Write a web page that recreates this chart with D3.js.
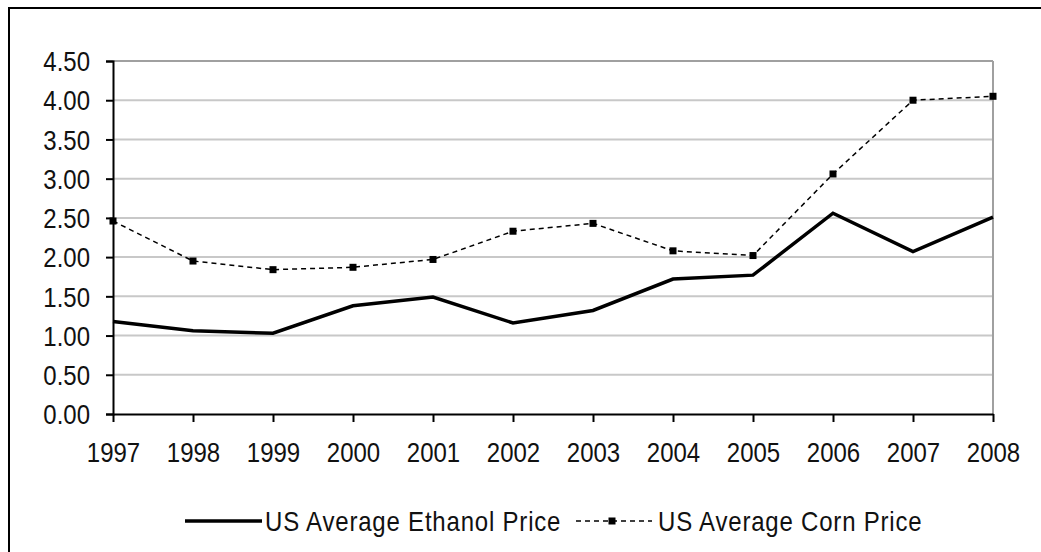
<!DOCTYPE html>
<html><head><meta charset="utf-8">
<script src="https://cdn.jsdelivr.net/npm/d3@7/dist/d3.min.js"></script>
<style>
html,body{margin:0;padding:0;background:#fff;}
svg{display:block;}
text{font-family:"Liberation Sans",Arial,sans-serif;fill:#111;}
</style></head>
<body>
<svg id="chart" width="1041" height="552"></svg>
<script>
const years = [1997,1998,1999,2000,2001,2002,2003,2004,2005,2006,2007,2008];
const ethanol = [1.18,1.06,1.03,1.38,1.49,1.16,1.32,1.72,1.77,2.56,2.07,2.51];
const corn = [2.46,1.95,1.84,1.87,1.97,2.33,2.43,2.08,2.02,3.06,4.00,4.05];
const yTicks = [0,0.5,1,1.5,2,2.5,3,3.5,4,4.5];
const seriesNames = ["US Average Ethanol Price","US Average Corn Price"];

(function(){
const svg = d3.select("#chart");
const W = 1041, H = 552;
const pLeft = 113, pRight = 993, pTop = 61, pBottom = 414;
const FS = 24, SY = 1.15;

// outer border (cropped: only top/left visible)
svg.append("rect").attr("x",9).attr("y",8).attr("width",W+20).attr("height",H+20)
  .attr("fill","none").attr("stroke","#000").attr("stroke-width",2);

const x = d3.scaleLinear().domain([years[0], years[years.length-1]]).range([pLeft,pRight]);
const y = d3.scaleLinear().domain([0,4.5]).range([pBottom,pTop]);

// gridlines
svg.append("g").selectAll("line").data(yTicks.filter(d=>d>0)).join("line")
  .attr("x1",pLeft).attr("x2",pRight)
  .attr("y1",d=>y(d)).attr("y2",d=>y(d))
  .attr("stroke",d=>d===4.5?"#a0a0a0":"#c8c8c8").attr("stroke-width",2);
// right plot border
svg.append("line").attr("x1",pRight).attr("x2",pRight).attr("y1",pTop).attr("y2",pBottom)
  .attr("stroke","#a0a0a0").attr("stroke-width",2);

// y axis
const yAxis = d3.axisLeft(y).tickValues(yTicks).tickFormat(d3.format(".2f")).tickSize(7).tickPadding(0);
const gy = svg.append("g").attr("transform",`translate(${pLeft},0)`).call(yAxis);
gy.select(".domain").attr("stroke","#000").attr("stroke-width",2);
gy.selectAll(".tick line").attr("stroke","#000").attr("stroke-width",2);
gy.selectAll(".tick text").remove();
gy.selectAll(".tick").append("text")
  .attr("transform",`translate(-23,0) scale(1,${SY})`)
  .attr("text-anchor","end").attr("dy","0.35em")
  .style("font-size",FS+"px").text(d=>d3.format(".2f")(d));

// x axis
const xAxis = d3.axisBottom(x).tickValues(years).tickFormat(d3.format("d")).tickSize(8).tickSizeOuter(0);
const gx = svg.append("g").attr("transform",`translate(0,${pBottom})`).call(xAxis);
gx.select(".domain").attr("stroke","#000").attr("stroke-width",2);
gx.selectAll(".tick line").attr("stroke","#000").attr("stroke-width",2);
gx.selectAll(".tick text").remove();
gx.selectAll(".tick").append("text")
  .attr("transform",`translate(0,38) scale(1,${SY})`)
  .attr("text-anchor","middle").attr("dy","0.35em")
  .style("font-size",FS+"px").text(d=>d);

const line = d3.line().x((d,i)=>x(years[i])).y(d=>y(d));

// corn (dashed with square markers)
svg.append("path").datum(corn).attr("d",line)
  .attr("fill","none").attr("stroke","#000").attr("stroke-width",1.5).attr("stroke-dasharray","5,4");
svg.append("g").selectAll("rect").data(corn).join("rect")
  .attr("x",(d,i)=>x(years[i])-3.5).attr("y",d=>y(d)-3.5)
  .attr("width",7).attr("height",7).attr("fill","#000");

// ethanol (thick solid)
svg.append("path").datum(ethanol).attr("d",line)
  .attr("fill","none").attr("stroke","#000").attr("stroke-width",3.5).attr("stroke-linejoin","miter");

// legend
const ly = 521;
const lg = svg.append("g");
lg.append("line").attr("x1",185).attr("x2",262).attr("y1",ly).attr("y2",ly)
  .attr("stroke","#000").attr("stroke-width",3.5);
lg.append("text").attr("transform",`translate(265,${ly}) scale(1,${SY})`).attr("dy","0.35em")
  .style("font-size",FS+"px").style("letter-spacing","0.8px").text(seriesNames[0]);
lg.append("line").attr("x1",576).attr("x2",652).attr("y1",ly).attr("y2",ly)
  .attr("stroke","#000").attr("stroke-width",1.5).attr("stroke-dasharray","5,4");
lg.append("rect").attr("x",612-3.5).attr("y",ly-3.5).attr("width",7).attr("height",7).attr("fill","#000");
lg.append("text").attr("transform",`translate(658,${ly}) scale(1,${SY})`).attr("dy","0.35em")
  .style("font-size",FS+"px").style("letter-spacing","0.8px").text(seriesNames[1]);
})();
</script>
</body></html>
